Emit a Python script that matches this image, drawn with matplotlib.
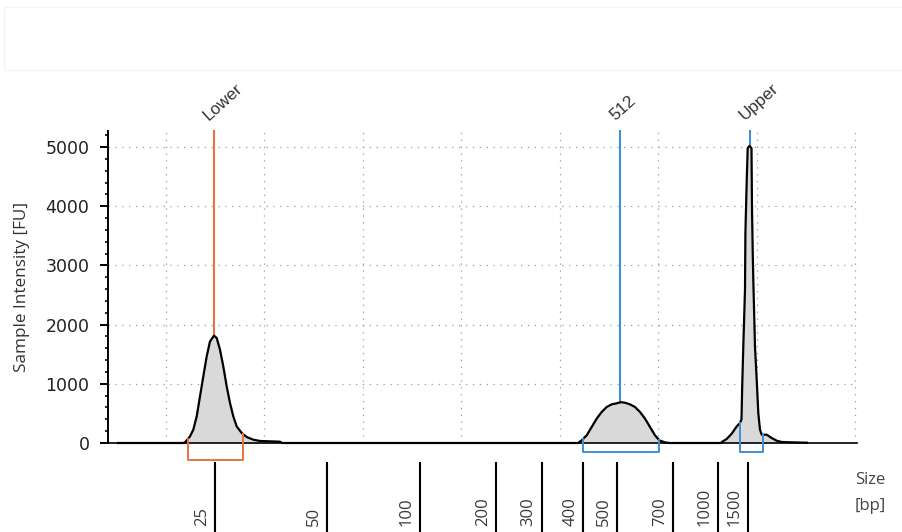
import numpy as np
import matplotlib
matplotlib.use("Agg")
import matplotlib.pyplot as plt
from matplotlib.ticker import MultipleLocator
from matplotlib.transforms import blended_transform_factory, ScaledTranslation
from matplotlib.patches import Rectangle

# ---------------- data (migration scan units on x, FU on y) ----------------
trace_x = [118, 183, 185, 190, 193.3, 196.7, 200, 203.3, 206.7, 210, 214, 216.7,
           220, 223.3, 226.7, 230, 233.3, 236.7, 241.7, 246.7, 253.3, 260, 280,
           282, 578, 581.7, 586.7, 591.7, 596.7, 601.7, 606.7, 611.7, 616.7,
           621, 625, 630, 635, 640, 645, 650, 655, 659.3, 665, 670,
           721, 722.7, 726.7, 731.7, 736.7, 740.0, 741.5, 742.2, 743.3, 745.0,
           745.4, 746.7, 747.7, 749.5, 751.5, 752.0, 752.7, 753.3, 755.0,
           756.7, 758.3, 760.0, 761.7, 766.7, 771.7, 776.7, 781.7, 795, 807]
trace_y = [0, 0, 10, 112, 225, 450, 787, 1125, 1463, 1716, 1813, 1774,
           1576, 1294, 956, 676, 450, 280, 169, 101, 56, 34, 22,
           0, 0, 45, 130, 270, 412, 524, 608, 653, 670,
           690, 680, 653, 608, 524, 412, 270, 130, 45, 10, 0,
           0, 27, 68, 157, 280, 338, 400, 960, 1630, 2590,
           3550, 4420, 4980, 5020, 4980, 3970, 3240, 2760, 1630,
           1070, 507, 225, 140, 140, 84, 39, 17, 10, 5]

# ladder sizes and their migration positions
ladder_sizes = ["25", "50", "100", "200", "300", "400", "500", "700", "1000", "1500"]
ladder_pos = [215.5, 327.3, 420, 495.7, 541.7, 583.3, 617, 673, 718, 748]

# identified peaks: label, migration position, colour
peak_labels = ["Lower", "512", "Upper"]
peak_pos = [214, 620.3, 750]
peak_colors = ["#e8733d", "#3d8fd8", "#3d8fd8"]

# integration brackets: start, end, colour
bracket_start = [188, 583, 740]
bracket_end = [243, 659, 763]
bracket_colors = ["#e8733d", "#3d8fd8", "#3d8fd8"]

y_ticks = [0, 1000, 2000, 3000, 4000, 5000]

# ---------------- figure ----------------
W, H = 902, 532
fig = plt.figure(figsize=(W / 100, H / 100), dpi=100)
fig.patch.set_facecolor("white")

# faint header frame
fig.patches.append(Rectangle((4 / W, 1 - 70 / H), 1.0, 63 / H, transform=fig.transFigure,
                             fill=False, edgecolor="#f4f4f4", lw=1))

ax_l, ax_r, ax_b, ax_t = 107.5, 857, 443, 131
ax = fig.add_axes([ax_l / W, 1 - ax_b / H, (ax_r - ax_l) / W, (ax_b - ax_t) / H])
y_top = (ax_b - ax_t) / 59.2 * 1000
ax.set_xlim(107.5, 857)
ax.set_ylim(0, y_top)

for s in ["top", "right"]:
    ax.spines[s].set_visible(False)
ax.spines["left"].set_linewidth(1.4)
ax.spines["bottom"].set_linewidth(1.2)

ax.set_yticks(y_ticks)
ax.yaxis.set_minor_locator(MultipleLocator(200))
ax.tick_params(axis="y", which="major", length=6, width=1.4, pad=7,
               labelsize=12.5, labelcolor="#222222", direction="out")
ax.tick_params(axis="y", which="minor", length=2.5, width=1.2, direction="out")
ax.tick_params(axis="x", which="both", bottom=False, labelbottom=False)
ax.xaxis.set_major_locator(MultipleLocator(98.5, offset=67.5))

ax.grid(True, which="major", axis="both", color="#9a9a9a", lw=0.9,
        linestyle=(0, (1, 4.5)))
ax.set_axisbelow(True)

ax.set_ylabel("Sample Intensity [FU]", fontsize=12.3, color="#333333",
              family=["Open Sans", "DejaVu Sans"], labelpad=11)

# trace
tx = np.array(trace_x, dtype=float)
ty = np.array(trace_y, dtype=float)
ax.fill_between(tx, 0, ty, color="#d9d9d9", lw=0, zorder=2)
ax.plot(tx, ty, color="black", lw=1.6, zorder=4, clip_on=False)

# peak marker lines and labels
for lab, px, col in zip(peak_labels, peak_pos, peak_colors):
    h = np.interp(px, tx, ty)
    ax.plot([px, px], [h, y_top], color=col, lw=1.5, zorder=3, clip_on=False)
    ax.annotate(lab, xy=(px, y_top), xycoords="data", xytext=(-2.5, 5.5),
                textcoords="offset points", rotation=42, rotation_mode="anchor",
                ha="left", va="bottom", fontsize=12.3, color="#333333",
                family=["Liberation Sans", "DejaVu Sans"], annotation_clip=False)

# integration brackets
depths = [-290, -150, -150]
for x0, x1, col, d in zip(bracket_start, bracket_end, bracket_colors, depths):
    h0 = np.interp(x0, tx, ty)
    h1 = np.interp(x1, tx, ty)
    ax.plot([x0, x0, x1, x1], [h0, d, d, h1], color=col, lw=1.4,
            clip_on=False, zorder=5)

# ladder size ticks below axis
btr = blended_transform_factory(ax.transData, fig.transFigure)
lab_tr = btr + ScaledTranslation(-13 / 100, 0, fig.dpi_scale_trans)
for s, px in zip(ladder_sizes, ladder_pos):
    fig.add_artist(plt.Line2D([px, px], [1 - 463 / H, 0], transform=btr,
                              color="black", lw=1.5))
    fig.text(px, 1 - 526 / H, s, transform=lab_tr, rotation=90, ha="center",
             va="bottom", fontsize=12, color="#3a3a3a",
             family=["Open Sans", "DejaVu Sans"])

fig.text(870 / W, 1 - 480 / H, "Size", ha="center", va="center", fontsize=12,
         color="#444444", family=["Open Sans", "DejaVu Sans"])
fig.text(870 / W, 1 - 506 / H, "[bp]", ha="center", va="center", fontsize=12,
         color="#444444", family=["Open Sans", "DejaVu Sans"])

fig.savefig("out.png", dpi=100, facecolor="white")
